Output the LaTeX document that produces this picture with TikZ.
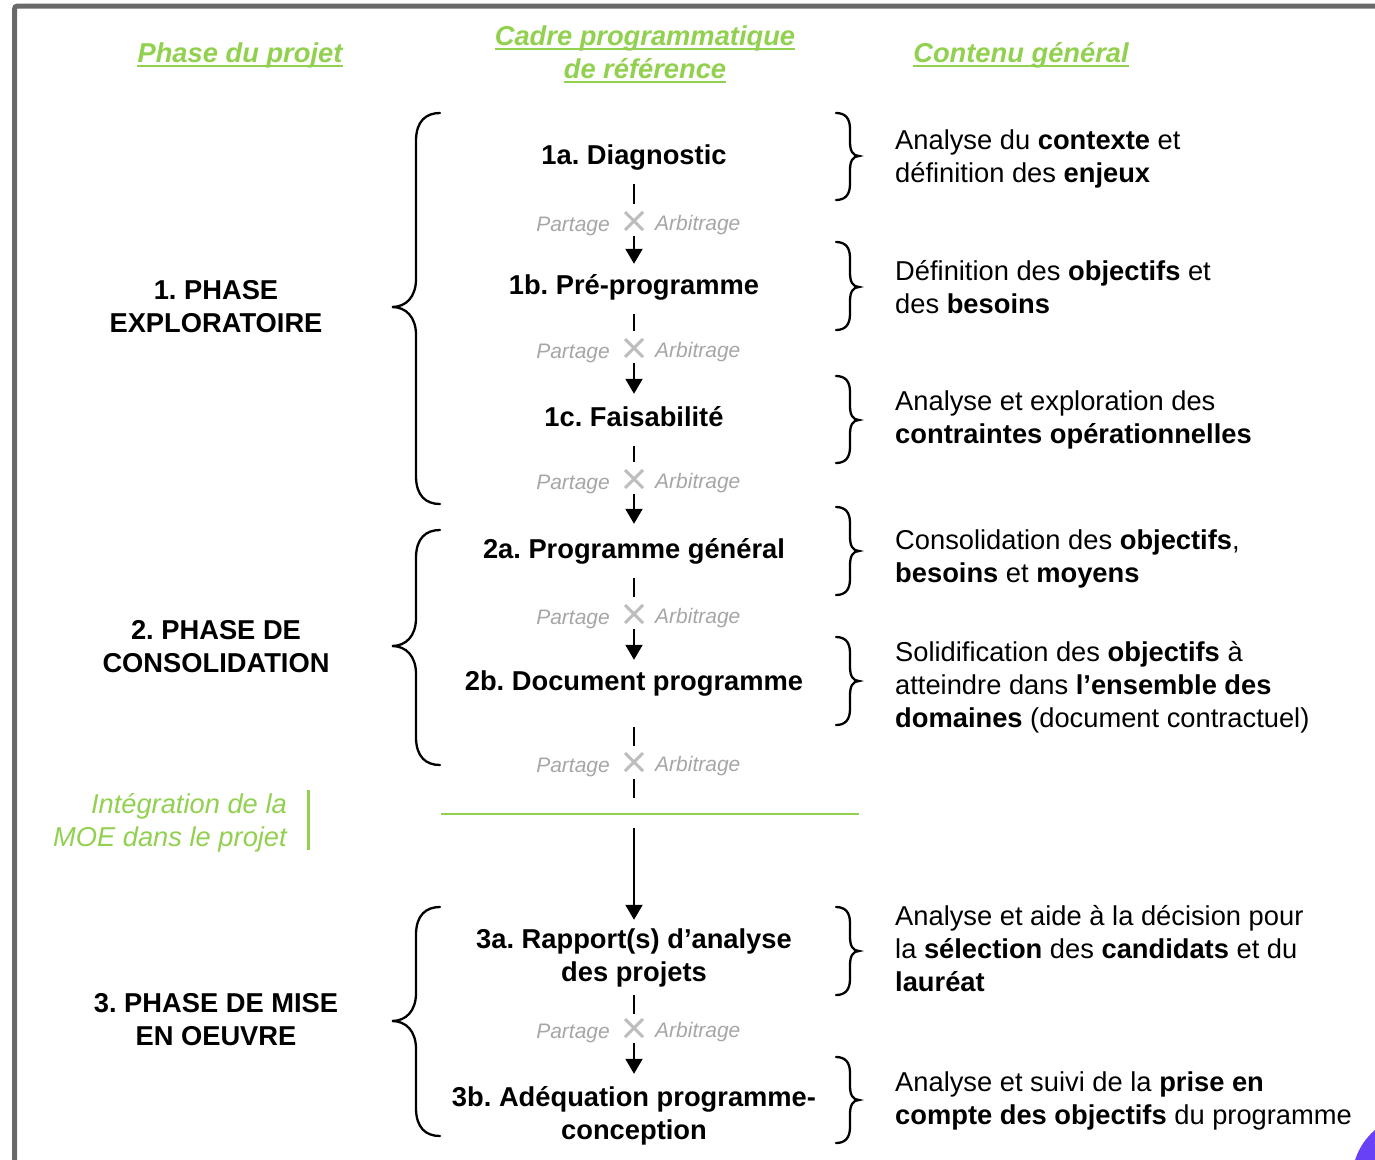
\documentclass[tikz,border=0pt]{standalone}
\usepackage{fontspec}
\setmainfont{Liberation Sans}
\usetikzlibrary{arrows.meta,shapes.misc,calc}
\frenchspacing
\definecolor{vgreen}{HTML}{92D050}
\definecolor{lgray}{HTML}{A6A6A6}
\definecolor{xgray}{HTML}{BDBDBD}
\definecolor{framegray}{RGB}{107,105,104}
\definecolor{cornerviolet}{RGB}{104,64,245}
\newcommand\LBr[3]{\draw[brace] (440,#1) .. controls (426,#1) and (416,#1+8) .. (416,#1+28) -- (416,#2-28) .. controls (416,#2-10) and (406,#2) .. (392,#2) .. controls (406,#2) and (416,#2+10) .. (416,#2+28) -- (416,#3-28) .. controls (416,#3-8) and (426,#3) .. (440,#3);}
\newcommand\RBr[3]{\draw[brace] (836,#1) .. controls (845,#1) and (850,#1+5) .. (850,#1+16) -- (850,#2-14) .. controls (850,#2-5) and (853,#2) .. (859,#2) .. controls (853,#2) and (850,#2+5) .. (850,#2+14) -- (850,#3-16) .. controls (850,#3-5) and (845,#3) .. (836,#3);}
\newcommand\PAx[2]{\node[xmark] (#1) at (634,#2) {};
  \node[pa, anchor=base east] (#1p) at ([xshift=-15pt,yshift=-1pt]#1.south west) {Partage};
  \node[pa, anchor=base west] (#1a) at ([xshift=12pt]#1.south east) {Arbitrage};}
\begin{document}
\begin{tikzpicture}[x=1pt,y=-1pt,
  main/.style={font=\fontsize{27.3}{32.7}\selectfont\bfseries, align=center, inner sep=0pt, anchor=north},
  desc/.style={font=\fontsize{27.3}{32.7}\selectfont, align=left, inner sep=0pt, anchor=north west},
  phase/.style={font=\fontsize{27.3}{32.7}\selectfont\bfseries, align=center, inner sep=0pt, anchor=north},
  ttl/.style={font=\fontsize{27.3}{32.7}\selectfont\bfseries\itshape, text=vgreen, inner sep=0pt, anchor=base},
  uline/.style={draw=vgreen, line width=2.2pt},
  pa/.style={font=\fontsize{21}{25}\selectfont\itshape, text=lgray, inner sep=0pt},
  xmark/.style={cross out, draw=xgray, line width=3pt, minimum size=15pt, inner sep=0pt},
  seg/.style={line width=2pt},
  arr/.style={line width=2pt, -{Triangle[width=17pt,length=15pt]}},
  brace/.style={line width=2.3pt, line cap=round}
]
\useasboundingbox (0,0) rectangle (1375,1159);
\begin{scope}
\clip (0,0) rectangle (1375,1159);
\fill[cornerviolet] (1418,1180) circle[radius=66pt];
\draw[framegray, line width=5pt, rounded corners=3pt] (14.5,1170) -- (14.5,6) -- (1385,6);
\end{scope}

% titles
\node[ttl] (t1) at (240,62.7) {Phase du projet};
\node[ttl] (t2) at (645,45.7) {Cadre programmatique};
\node[ttl] (t3) at (645,78.7) {de référence};
\node[ttl] (t4) at (1021,62.7) {Contenu général};
\foreach \t in {t1,t2,t3,t4}{\draw[uline] ([yshift=-3pt]\t.base west) -- ([yshift=-3pt]\t.base east);}

% center column
\node[main] (n1a) at (634,141.8) {\strut 1a. Diagnostic};
\node[main] (n1b) at (634,271.8) {\strut 1b. Pré-programme};
\node[main] (n1c) at (634,403.8) {\strut 1c. Faisabilité};
\node[main] (n2a) at (634,535.8) {\strut 2a. Programme général};
\node[main] (n2b) at (634,667.8) {\strut 2b. Document programme};
\node[main] (n3a) at (634,925.8) {\strut 3a. Rapport(s) d’analyse\\\strut des projets};
\node[main] (n3b) at (634,1083.8) {\strut 3b. Adéquation programme-\\\strut conception};

\PAx{x1}{221}
\PAx{x2}{348}
\PAx{x3}{479}
\PAx{x4}{614}
\PAx{x5}{762}
\PAx{x6}{1028}

\draw[seg, shorten <=9pt, shorten >=8pt] (n1a) -- (x1);
\draw[arr, shorten <=6pt, shorten >=8pt] (x1) -- (n1b);
\draw[seg, shorten <=9pt, shorten >=8pt] (n1b) -- (x2);
\draw[arr, shorten <=6pt, shorten >=10pt] (x2) -- (n1c);
\draw[seg, shorten <=9pt, shorten >=8pt] (n1c) -- (x3);
\draw[arr, shorten <=6pt, shorten >=12pt] (x3) -- (n2a);
\draw[seg, shorten <=9pt, shorten >=8pt] (n2a) -- (x4);
\draw[arr, shorten <=6pt, shorten >=8pt] (x4) -- (n2b);
\draw[seg, shorten <=26pt, shorten >=7pt] (n2b) -- (x5);
\coordinate (gm) at (634,814);
\draw[vgreen, line width=2.5pt] (441,814) -- (859,814);
\draw[seg, shorten <=8pt, shorten >=16pt] (x5) -- (gm);
\draw[arr, shorten <=14pt, shorten >=6pt] (gm) -- (n3a);
\draw[seg, shorten <=3.5pt, shorten >=5.5pt] (n3a) -- (x6);
\draw[arr, shorten <=6pt, shorten >=10pt] (x6) -- (n3b);

% phase labels
\node[phase] (ph1) at (216,276.8) {\strut 1. PHASE\\\strut EXPLORATOIRE};
\node[phase] (ph2) at (216,616.8) {\strut 2. PHASE DE\\\strut CONSOLIDATION};
\node[phase] (ph3) at (216,989.8) {\strut 3. PHASE DE MISE\\\strut EN OEUVRE};

\node[font=\fontsize{27.3}{32.7}\selectfont\itshape, text=vgreen, align=right, inner sep=0pt, anchor=north east] (moe) at (287,790.8) {\strut Intégration de la\\\strut MOE dans le projet};
\draw[vgreen, line width=3pt] (308,790) -- (308,850);

% left braces
\LBr{113}{307}{504}
\LBr{530}{646}{765}
\LBr{907}{1021}{1136}

% right braces
\RBr{113}{156}{200}
\RBr{242}{287}{330}
\RBr{376}{420}{463}
\RBr{507}{551}{595}
\RBr{637}{681}{725}
\RBr{907}{951}{995}
\RBr{1057}{1100}{1143}

% descriptions
\node[desc] (r1) at (895,126.8) {\strut Analyse du \textbf{contexte} et\\\strut définition des \textbf{enjeux}};
\node[desc] (r2) at (895,257.8) {\strut Définition des \textbf{objectifs} et\\\strut des \textbf{besoins}};
\node[desc] (r3) at (895,387.8) {\strut Analyse et exploration des\\\strut \textbf{contraintes opérationnelles}};
\node[desc] (r4) at (895,526.8) {\strut Consolidation des \textbf{objectifs},\\\strut \textbf{besoins} et \textbf{moyens}};
\node[desc] (r5) at (895,638.8) {\strut Solidification des \textbf{objectifs} à\\\strut atteindre dans \textbf{l’ensemble des}\\\strut \textbf{domaines} (document contractuel)};
\node[desc] (r6) at (895,902.8) {\strut Analyse et aide à la décision pour\\\strut la \textbf{sélection} des \textbf{candidats} et du\\\strut \textbf{lauréat}};
\node[desc] (r7) at (895,1068.8) {\strut Analyse et suivi de la \textbf{prise en}\\\strut \textbf{compte des objectifs} du programme};
\end{tikzpicture}
\end{document}
